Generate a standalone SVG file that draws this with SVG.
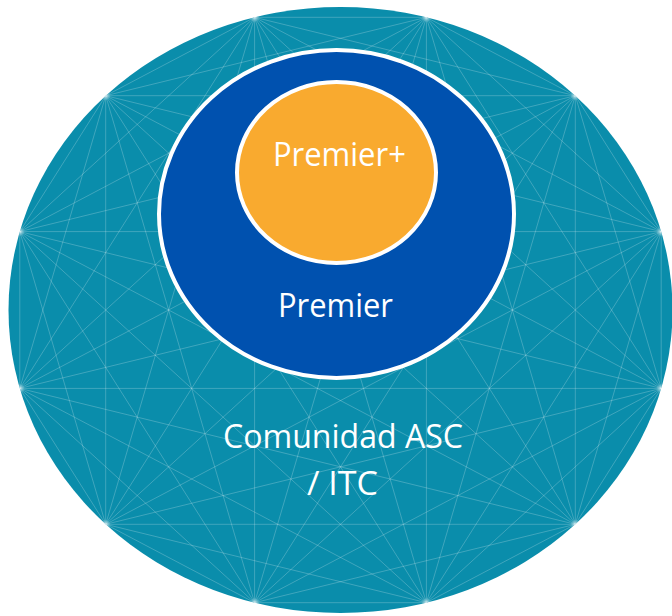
<svg xmlns="http://www.w3.org/2000/svg" width="672" height="616" viewBox="0 0 672 616">
<style>
.lbl{font-family:"Open Sans","Noto Sans","Liberation Sans",sans-serif;font-size:32px;fill:#ffffff;text-anchor:middle}
.web{fill:none;stroke:#ffffff;stroke-opacity:0.22;stroke-width:1}
</style>
<defs>
<radialGradient id="glow"><stop offset="0" stop-color="#ffffff" stop-opacity="0.5"/><stop offset="1" stop-color="#ffffff" stop-opacity="0"/></radialGradient>
<clipPath id="outerClip"><ellipse cx="340.5" cy="310" rx="332" ry="303"/></clipPath>
</defs>
<rect width="672" height="616" fill="#ffffff"/>
<g id="comunidad">
<ellipse cx="340.5" cy="310" rx="332" ry="303" fill="#0A8DAB"/>
<g clip-path="url(#outerClip)">
<path class="web" d="M426.4 17.3L575.3 95.7M426.4 17.3L661.2 231.6M426.4 17.3L661.2 388.4M426.4 17.3L575.3 524.3M426.4 17.3L426.4 602.7M426.4 17.3L254.6 602.7M426.4 17.3L105.7 524.3M426.4 17.3L19.8 388.4M426.4 17.3L19.8 231.6M426.4 17.3L105.7 95.7M426.4 17.3L254.6 17.3M575.3 95.7L661.2 231.6M575.3 95.7L661.2 388.4M575.3 95.7L575.3 524.3M575.3 95.7L426.4 602.7M575.3 95.7L254.6 602.7M575.3 95.7L105.7 524.3M575.3 95.7L19.8 388.4M575.3 95.7L19.8 231.6M575.3 95.7L105.7 95.7M575.3 95.7L254.6 17.3M661.2 231.6L661.2 388.4M661.2 231.6L575.3 524.3M661.2 231.6L426.4 602.7M661.2 231.6L254.6 602.7M661.2 231.6L105.7 524.3M661.2 231.6L19.8 388.4M661.2 231.6L19.8 231.6M661.2 231.6L105.7 95.7M661.2 231.6L254.6 17.3M661.2 388.4L575.3 524.3M661.2 388.4L426.4 602.7M661.2 388.4L254.6 602.7M661.2 388.4L105.7 524.3M661.2 388.4L19.8 388.4M661.2 388.4L19.8 231.6M661.2 388.4L105.7 95.7M661.2 388.4L254.6 17.3M575.3 524.3L426.4 602.7M575.3 524.3L254.6 602.7M575.3 524.3L105.7 524.3M575.3 524.3L19.8 388.4M575.3 524.3L19.8 231.6M575.3 524.3L105.7 95.7M575.3 524.3L254.6 17.3M426.4 602.7L254.6 602.7M426.4 602.7L105.7 524.3M426.4 602.7L19.8 388.4M426.4 602.7L19.8 231.6M426.4 602.7L105.7 95.7M426.4 602.7L254.6 17.3M254.6 602.7L105.7 524.3M254.6 602.7L19.8 388.4M254.6 602.7L19.8 231.6M254.6 602.7L105.7 95.7M254.6 602.7L254.6 17.3M105.7 524.3L19.8 388.4M105.7 524.3L19.8 231.6M105.7 524.3L105.7 95.7M105.7 524.3L254.6 17.3M19.8 388.4L19.8 231.6M19.8 388.4L105.7 95.7M19.8 388.4L254.6 17.3M19.8 231.6L105.7 95.7M19.8 231.6L254.6 17.3M105.7 95.7L254.6 17.3"/>
<g fill="url(#glow)">
<circle cx="426.4" cy="17.3" r="5"/><circle cx="575.3" cy="95.7" r="5"/><circle cx="661.2" cy="231.6" r="5"/><circle cx="661.2" cy="388.4" r="5"/><circle cx="575.3" cy="524.3" r="5"/><circle cx="426.4" cy="602.7" r="5"/><circle cx="254.6" cy="602.7" r="5"/><circle cx="105.7" cy="524.3" r="5"/><circle cx="19.8" cy="388.4" r="5"/><circle cx="19.8" cy="231.6" r="5"/><circle cx="105.7" cy="95.7" r="5"/><circle cx="254.6" cy="17.3" r="5"/>
</g>
</g>
<text class="lbl" x="343" y="448" textLength="240" lengthAdjust="spacingAndGlyphs">Comunidad ASC</text>
<text class="lbl" x="342.5" y="495" textLength="71" lengthAdjust="spacingAndGlyphs">/ ITC</text>
</g>
<g id="premier">
<ellipse cx="336.5" cy="214" rx="177.5" ry="164" fill="#0051AF" stroke="#ffffff" stroke-width="4"/>
<text class="lbl" x="335.5" y="316.5" textLength="115" lengthAdjust="spacingAndGlyphs">Premier</text>
</g>
<g id="premier-plus">
<ellipse cx="336.5" cy="172.5" rx="99.5" ry="90.5" fill="#F9AA2F" stroke="#ffffff" stroke-width="4"/>
<text class="lbl" x="339.4" y="165.7" textLength="133" lengthAdjust="spacingAndGlyphs">Premier+</text>
</g>
<g id="connectors"/>
</svg>
